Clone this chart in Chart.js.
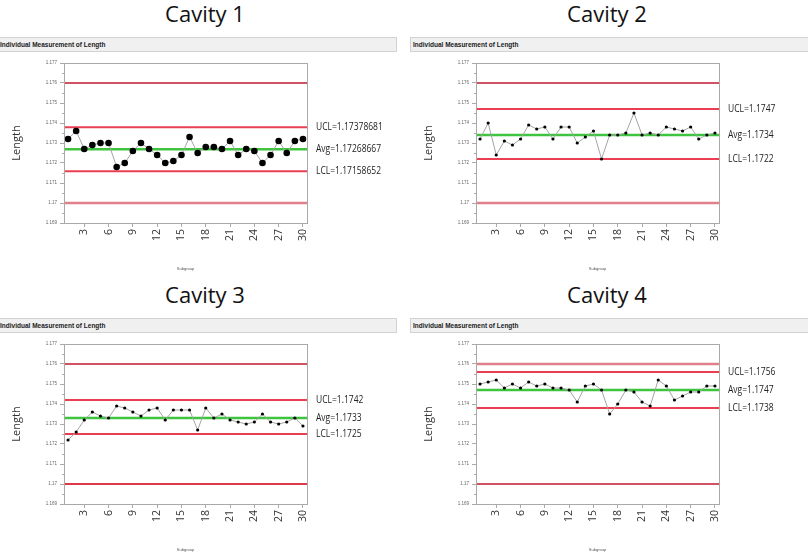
<!DOCTYPE html>
<html>
<head>
<meta charset="utf-8">
<script src="https://cdn.jsdelivr.net/npm/chart.js@4.4.0/dist/chart.umd.min.js"></script>
<style>
body { margin:0; background:#fff; width:808px; height:555px; overflow:hidden; position:relative; font-family:"Open Sans", sans-serif; }
.title { position:absolute; font-size:22px; color:#111; transform:translateX(-50%); white-space:nowrap; line-height:30px; }
.bar { position:absolute; background:#f0f0f0; border:1px solid #d2d2d2; box-sizing:border-box; height:15px;
       font:bold 6.5px "Liberation Sans", Arial, sans-serif; line-height:13px; color:#222; padding-left:2px; white-space:nowrap; overflow:hidden; }
canvas { position:absolute; }
</style>
</head>
<body>
<div class="title" style="left:205px;top:-2px">Cavity 1</div>
<div class="title" style="left:607px;top:-2px">Cavity 2</div>
<div class="title" style="left:205px;top:279px">Cavity 3</div>
<div class="title" style="left:607px;top:279px">Cavity 4</div>

<div class="bar" style="left:-3px;top:37px;width:400px">Individual Measurement of Length</div>
<div class="bar" style="left:410px;top:37px;width:400px">Individual Measurement of Length</div>
<div class="bar" style="left:-3px;top:318px;width:400px">Individual Measurement of Length</div>
<div class="bar" style="left:410px;top:318px;width:400px">Individual Measurement of Length</div>

<canvas id="c1" width="404" height="226" style="left:0px;top:52px"></canvas>
<canvas id="c2" width="404" height="226" style="left:412px;top:52px"></canvas>
<canvas id="c3" width="404" height="226" style="left:0px;top:333px"></canvas>
<canvas id="c4" width="404" height="226" style="left:412px;top:333px"></canvas>

<script>
var subgroups = [1,2,3,4,5,6,7,8,9,10,11,12,13,14,15,16,17,18,19,20,21,22,23,24,25,26,27,28,29,30];
var xTicks = [3,6,9,12,15,18,21,24,27,30];

var cavity1 = [1.1732,1.1736,1.1727,1.1729,1.1730,1.1730,1.1718,1.1720,1.1726,1.1730,
               1.1727,1.1724,1.1720,1.1721,1.1724,1.1733,1.1725,1.1728,1.1728,1.1727,
               1.1731,1.1724,1.1727,1.1726,1.1720,1.1724,1.1731,1.1725,1.1731,1.1732];
var cavity2 = [1.1732,1.1740,1.1724,1.1731,1.1729,1.1732,1.1739,1.1737,1.1738,1.1732,
               1.1738,1.1738,1.1730,1.1733,1.1736,1.1722,1.1734,1.1734,1.1735,1.1745,
               1.1734,1.1735,1.1734,1.1738,1.1737,1.1736,1.1738,1.1732,1.1734,1.1735];
var cavity3 = [1.1722,1.1726,1.1732,1.1736,1.1734,1.1733,1.1739,1.1738,1.1736,1.1734,
               1.1737,1.1738,1.1732,1.1737,1.1737,1.1737,1.1727,1.1738,1.1733,1.1735,
               1.1732,1.1731,1.1730,1.1731,1.1735,1.1731,1.1730,1.1731,1.1733,1.1729];
var cavity4 = [1.1750,1.1751,1.1752,1.1748,1.1750,1.1748,1.1751,1.1749,1.1750,1.1748,
               1.1748,1.1747,1.1741,1.1749,1.1750,1.1747,1.1735,1.1740,1.1747,1.1746,
               1.1741,1.1739,1.1752,1.1749,1.1742,1.1744,1.1746,1.1746,1.1749,1.1749];

var uclValues = [1.17378681, 1.1747, 1.1742, 1.1756];
var avgValues = [1.17268667, 1.1734, 1.1733, 1.1747];
var lclValues = [1.17158652, 1.1722, 1.1725, 1.1738];
var upperSpec = 1.176;
var lowerSpec = 1.17;

var darkRed = '#c2182e';
var red = '#ea3e52';
var pink = '#e27f8b';
var green = '#3ec43e';

// minor ticks on y + frame round the plot + control limit labels
var extrasPlugin = {
	id: 'extras',
	afterDatasetsDraw: function(chart) {
		var ctx = chart.ctx;
		var area = chart.chartArea;
		var y = chart.scales.y;
		ctx.save();
		ctx.strokeStyle = '#a9a9a9';
		ctx.lineWidth = 1;
		ctx.beginPath();
		for (var v = 1.1695; v < 1.177; v += 0.001) {
			var py = Math.round(y.getPixelForValue(v)) + 0.5;
			ctx.moveTo(area.left - 2, py);
			ctx.lineTo(area.left, py);
		}
		ctx.stroke();
		ctx.strokeRect(Math.round(area.left) + 0.5, Math.round(area.top) + 0.5,
			Math.round(area.right - area.left), Math.round(area.bottom - area.top));

		var lims = chart.options.plugins.extras;
		ctx.fillStyle = '#222';
		ctx.font = '10px "Open Sans", sans-serif';
		ctx.textBaseline = 'middle';
		ctx.textAlign = 'left';
		var names = ['UCL', 'Avg', 'LCL'];
		for (var i = 0; i < 3; i++) {
			ctx.save();
			ctx.translate(area.right + 9, y.getPixelForValue(lims.values[i]));
			ctx.scale(0.85, 1);   // the original face is narrower than Open Sans
			ctx.fillText(names[i] + '=' + lims.values[i], 0, 0);
			ctx.restore();
		}
		ctx.restore();
	}
};

function hLine(v, color, width)
{
	return {
		type: 'line',
		data: [{x: 0.5, y: v}, {x: 30.5, y: v}],
		borderColor: color,
		borderWidth: width,
		pointRadius: 0,
		order: 2
	};
}

function makeChart(id, values, k, topColor, bottomColor, dotSize)
{
	var points = [];
	for (var i = 0; i < subgroups.length; i++) {
		points.push({x: subgroups[i], y: values[i]});
	}
	var ctx = document.getElementById(id);
	return new Chart(ctx, {
		type: 'line',
		data: {
			datasets: [
				{
					data: points,
					borderColor: '#a4a4a4',
					borderWidth: 1,
					pointRadius: dotSize,
					pointBackgroundColor: '#000',
					pointBorderWidth: 0,
					order: 0
				},
				hLine(upperSpec, topColor.c, topColor.w),
				hLine(uclValues[k], red, 2),
				hLine(avgValues[k], green, 2.5),
				hLine(lclValues[k], red, 2),
				hLine(lowerSpec, bottomColor.c, bottomColor.w)
			]
		},
		options: {
			responsive: false,
			animation: false,
			layout: {padding: {left: 6, right: 97, top: 11, bottom: 7}},
			plugins: {
				legend: {display: false},
				tooltip: {enabled: false},
				extras: {values: [uclValues[k], avgValues[k], lclValues[k]]}
			},
			scales: {
				x: {
					type: 'linear',
					min: 0.5,
					max: 30.5,
					afterBuildTicks: function(s) {
						s.ticks = xTicks.map(function(v) { return {value: v}; });
					},
					afterFit: function(s) { s.height = 48; },
					ticks: {
						minRotation: 90, maxRotation: 90,
						font: {size: 10.5, family: 'Open Sans'},
						color: '#333',
						padding: 2,
						callback: function(v) { return v; }
					},
					grid: {drawOnChartArea: false, tickLength: 4, color: '#a9a9a9'},
					border: {color: '#a9a9a9'},
					title: {display: true, text: 'Subgroup', font: {size: 4}, color: '#555', padding: 0}
				},
				y: {
					min: 1.169,
					max: 1.177,
					afterFit: function(s) { s.width = 58; },
					ticks: {
						stepSize: 0.001,
						font: {size: 4.5},
						color: '#666',
						padding: 3,
						callback: function(v) { return String(parseFloat(v.toFixed(3))); }
					},
					grid: {drawOnChartArea: false, tickLength: 4, color: '#a9a9a9'},
					border: {color: '#a9a9a9'},
					title: {display: true, text: 'Length', font: {size: 11, family: 'Open Sans'}, color: '#333', padding: {top: 4, bottom: 0}}
				}
			}
		},
		plugins: [extrasPlugin]
	});
}

makeChart('c1', cavity1, 0, {c: darkRed, w: 1.5}, {c: pink, w: 2.5}, 3.3);
makeChart('c2', cavity2, 1, {c: darkRed, w: 1.5}, {c: pink, w: 2.5}, 1.6);
makeChart('c3', cavity3, 2, {c: darkRed, w: 1.5}, {c: '#e0394c', w: 1.8}, 1.6);
makeChart('c4', cavity4, 3, {c: pink, w: 2.5}, {c: darkRed, w: 1.5}, 1.6);
</script>
</body>
</html>
